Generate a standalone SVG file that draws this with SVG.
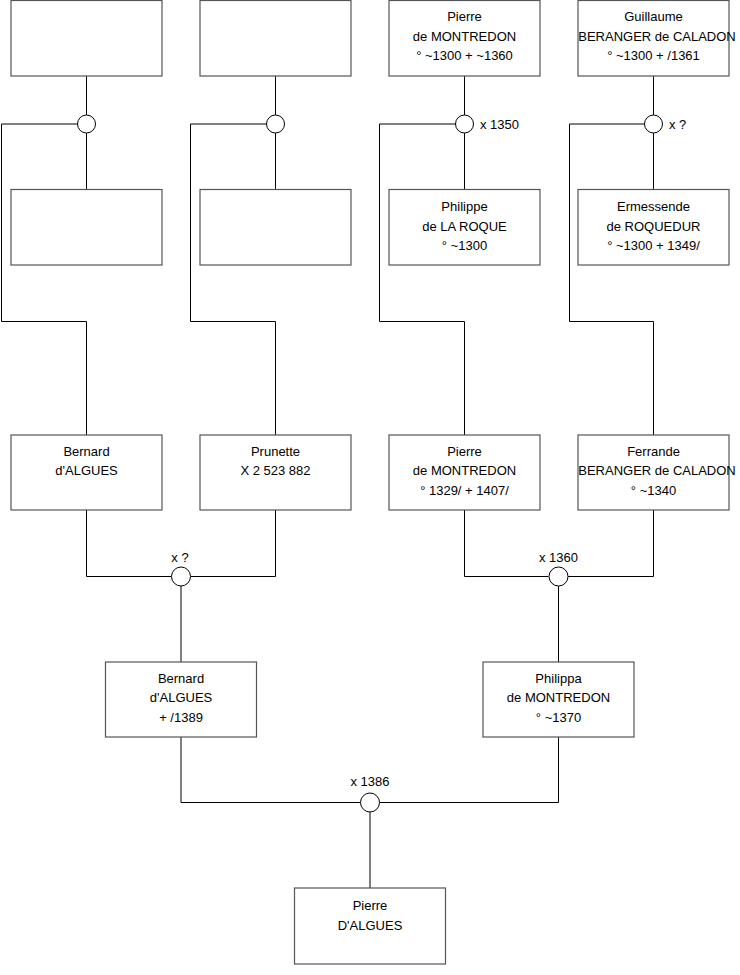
<svg xmlns="http://www.w3.org/2000/svg" width="740" height="975" viewBox="0 0 740 975">
<style>
.box{fill:#fff;stroke:#555;stroke-width:1.2}
.ln{fill:none;stroke:#000;stroke-width:1}
.ring{fill:#fff;stroke:#000;stroke-width:1}
text{font-family:"Liberation Sans",Arial,sans-serif;font-size:13px;fill:#000}
.c{text-anchor:middle}
</style>
<rect width="740" height="975" fill="#fff"/>
<g id="connectors">
<path class="ln" d="M86.5 76V115M86.5 133V189M77.5 124H1.5V321.5H86.5V435"/>
<path class="ln" d="M275.5 76V115M275.5 133V189M266.5 124H190.5V321.5H275.5V435"/>
<path class="ln" d="M464.5 76V115M464.5 133V189M455.5 124H379.5V321.5H464.5V435"/>
<path class="ln" d="M653.5 76V115M653.5 133V189M644.5 124H569.5V321.5H653.5V435"/>
<path class="ln" d="M86.5 510V576.5H171.5M275.5 510V576.5H190.5M181 586V662"/>
<path class="ln" d="M464.5 510V576.5H548.5M653.5 510V576.5H567.5M558.5 586V662"/>
<path class="ln" d="M181 737V802.5H360.5M558.5 737V802.5H379.5M370 812V888"/>
<circle class="ring" cx="86.5" cy="124" r="9"/>
<circle class="ring" cx="275.5" cy="124" r="9"/>
<circle class="ring" cx="464.5" cy="124" r="9"/>
<circle class="ring" cx="653.5" cy="124" r="9"/>
<circle class="ring" cx="181" cy="576.5" r="9.5"/>
<circle class="ring" cx="558.5" cy="576.5" r="9.5"/>
<circle class="ring" cx="370" cy="802.5" r="9.5"/>
<text x="480" y="128.5">x 1350</text>
<text x="669" y="128.5">x ?</text>
<text class="c" x="180" y="562">x ?</text>
<text class="c" x="558.5" y="562">x 1360</text>
<text class="c" x="370" y="786">x 1386</text>
</g>
<g id="n1"><rect class="box" x="11" y="0.5" width="151" height="75.5"/></g>
<g id="n2"><rect class="box" x="200" y="0.5" width="151" height="75.5"/></g>
<g id="n3"><rect class="box" x="389" y="0.5" width="151" height="75.5"/>
<text class="c" x="464.5" y="21">Pierre</text><text class="c" x="464.5" y="40.5">de MONTREDON</text><text class="c" x="464.5" y="60">° ~1300 + ~1360</text></g>
<g id="n4"><rect class="box" x="578" y="0.5" width="151" height="75.5"/>
<text class="c" x="653.5" y="21">Guillaume</text><text class="c" x="657" y="40.5">BERANGER de CALADON</text><text class="c" x="653.5" y="60">° ~1300 + /1361</text></g>
<g id="n5"><rect class="box" x="11" y="189.5" width="151" height="75.5"/></g>
<g id="n6"><rect class="box" x="200" y="189.5" width="151" height="75.5"/></g>
<g id="n7"><rect class="box" x="389" y="189.5" width="151" height="75.5"/>
<text class="c" x="464.5" y="210.5">Philippe</text><text class="c" x="464.5" y="230.5">de LA ROQUE</text><text class="c" x="464.5" y="250">° ~1300</text></g>
<g id="n8"><rect class="box" x="578" y="189.5" width="151" height="75.5"/>
<text class="c" x="653.5" y="210.5">Ermessende</text><text class="c" x="653.5" y="230.5">de ROQUEDUR</text><text class="c" x="653.5" y="250">° ~1300 + 1349/</text></g>
<g id="n9"><rect class="box" x="11" y="435" width="151" height="75"/>
<text class="c" x="86.5" y="455.5">Bernard</text><text class="c" x="86.5" y="475">d'ALGUES</text></g>
<g id="n10"><rect class="box" x="200" y="435" width="151" height="75"/>
<text class="c" x="275.5" y="455.5">Prunette</text><text class="c" x="275.5" y="475">X 2 523 882</text></g>
<g id="n11"><rect class="box" x="389" y="435" width="151" height="75"/>
<text class="c" x="464.5" y="455.5">Pierre</text><text class="c" x="464.5" y="475">de MONTREDON</text><text class="c" x="464.5" y="494.5">° 1329/ + 1407/</text></g>
<g id="n12"><rect class="box" x="578" y="435" width="151" height="75"/>
<text class="c" x="653.5" y="455.5">Ferrande</text><text class="c" x="657" y="475">BERANGER de CALADON</text><text class="c" x="653.5" y="494.5">° ~1340</text></g>
<g id="n13"><rect class="box" x="105.5" y="662" width="151" height="75"/>
<text class="c" x="181" y="682.5">Bernard</text><text class="c" x="181" y="702">d'ALGUES</text><text class="c" x="181" y="721.5">+ /1389</text></g>
<g id="n14"><rect class="box" x="483" y="662" width="151" height="75"/>
<text class="c" x="558.5" y="682.5">Philippa</text><text class="c" x="558.5" y="702">de MONTREDON</text><text class="c" x="558.5" y="721.5">° ~1370</text></g>
<g id="n15"><rect class="box" x="294.5" y="888" width="151" height="76"/>
<text class="c" x="370" y="909.5">Pierre</text><text class="c" x="370" y="929.5">D'ALGUES</text></g>
</svg>
